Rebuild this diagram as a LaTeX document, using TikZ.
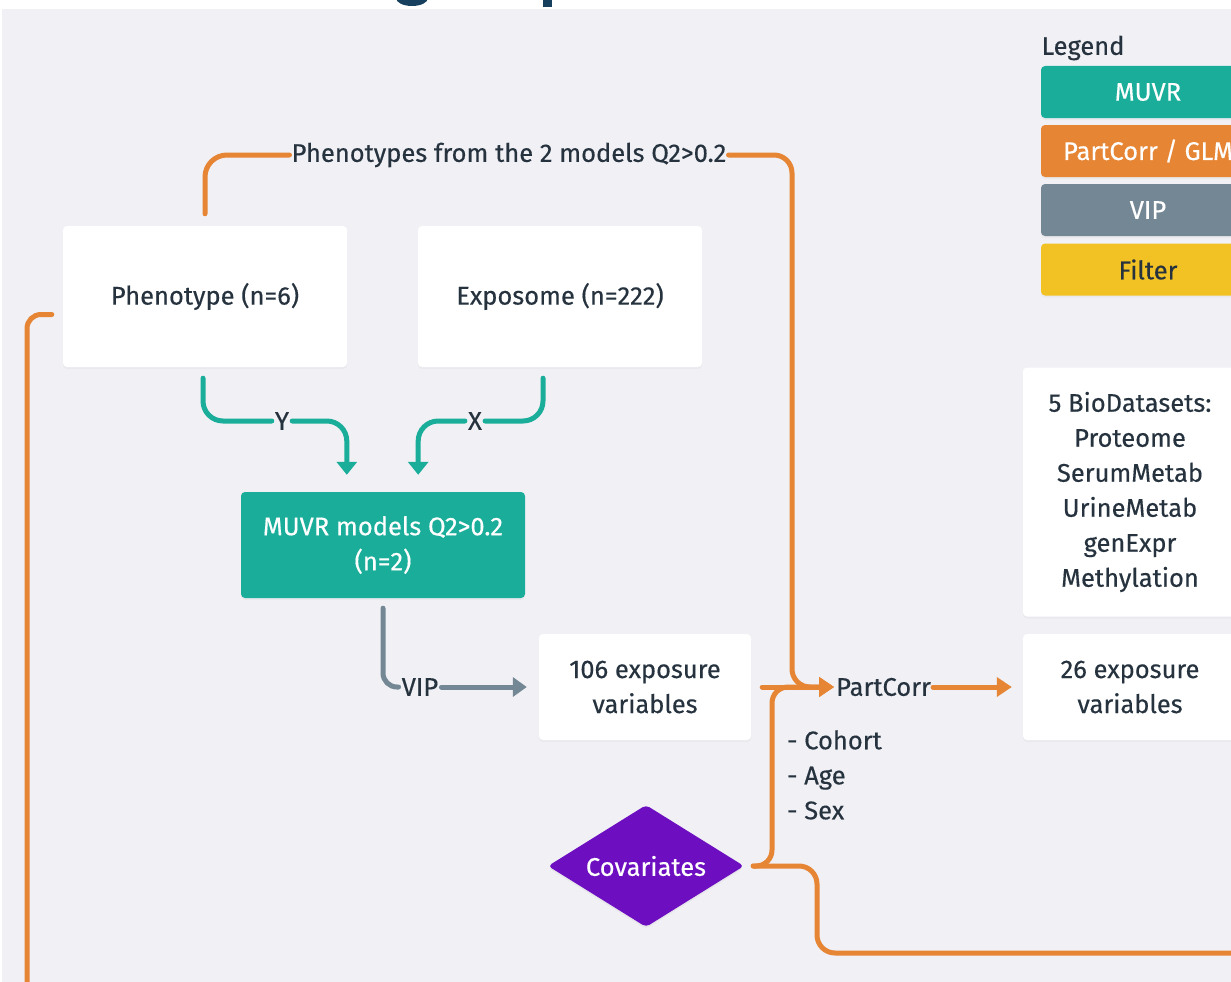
\documentclass[tikz,border=0pt]{standalone}
\usepackage{fontspec}
\setmainfont[FakeBold=0.35]{Fira Sans}
\usetikzlibrary{arrows.meta,shapes.geometric,shadows}
\definecolor{bg}{HTML}{F0F0F5}
\definecolor{ink}{HTML}{26333F}
\definecolor{muvrc}{HTML}{1AAE9A}
\definecolor{pcorrc}{HTML}{E68534}
\definecolor{vipc}{HTML}{748794}
\definecolor{filtc}{HTML}{F2C224}
\definecolor{covc}{HTML}{6D0FC0}
\definecolor{titlec}{HTML}{17405F}
\begin{document}
\begin{tikzpicture}[x=1pt,y=-1pt,
  txt/.style={font=\fontsize{25.5}{35}\selectfont, text=ink},
  card/.style={txt, fill=white, rounded corners=4pt, align=center, inner sep=0pt,
    drop shadow={opacity=0.06, shadow xshift=0pt, shadow yshift=-2pt}},
  legbox/.style={card, minimum width=214pt, minimum height=52pt, text=white},
  lab/.style={txt, inner sep=3pt},
  tealline/.style={draw=muvrc, line width=5pt, line cap=round, rounded corners=20pt},
  tealarrow/.style={tealline, -{Triangle[width=20pt,length=13pt]}},
  vipline/.style={draw=vipc, line width=5pt, line cap=round, rounded corners=14pt},
  viparrow/.style={vipline, -{Triangle[width=19pt,length=14pt]}},
  pline/.style={draw=pcorrc, line width=5pt, line cap=round, rounded corners=18pt},
  parrow/.style={pline, -{Triangle[width=19pt,length=15pt]}},
]
\useasboundingbox (0,0) rectangle (1231,982);
\clip (0,0) rectangle (1231,982);
\fill[white] (0,0) rectangle (1231,982);
\fill[bg] (2,9) rectangle (1235,985);

% heading above the canvas (only its descenders reach this area)
\fill[titlec] (412,-2) ellipse (16pt and 8pt);
\fill[titlec] (543,-2) rectangle (552,7);

% legend
\node[txt, anchor=west] (legend) at (1038,48) {Legend};
\node[legbox, fill=muvrc]  (lg-muvr) at (1148,92)  {MUVR};
\node[legbox, fill=pcorrc] (lg-pc)   at (1148,151) {PartCorr / GLM};
\node[legbox, fill=vipc]   (lg-vip)  at (1148,210) {VIP};
\node[legbox, fill=filtc, text=ink] (lg-filt) at (1148,269.5) {Filter};

% data blocks
\node[card, minimum width=284pt, minimum height=141pt] (pheno) at (205,296.5) {Phenotype (n=6)};
\node[card, minimum width=284pt, minimum height=141pt] (expo)  at (560,296.5) {Exposome (n=222)};
\node[card, fill=muvrc, text=white, minimum width=284pt, minimum height=106pt] (muvr) at (383,545) {MUVR models Q2>0.2\\(n=2)};
\node[card, minimum width=212pt, minimum height=106pt] (b106) at (645,687) {106 exposure\\variables};
\node[card, minimum width=214pt, minimum height=106pt] (b26)  at (1130,687) {26 exposure\\variables};
\node[card, minimum width=214pt, minimum height=249pt] (bio)  at (1130,492)
  {5 BioDatasets:\\Proteome\\SerumMetab\\UrineMetab\\genExpr\\Methylation};
\node[diamond, fill=covc, text=white, font=\fontsize{25.5}{35}\selectfont, aspect=1.6,
  inner sep=0pt, minimum width=196pt, minimum height=122pt, rounded corners=4pt,
  drop shadow={opacity=0.08, shadow xshift=0pt, shadow yshift=-2pt}] (cov) at (646,866) {Covariates};

% connector labels
\node[lab] (ylab) at (282,421) {Y};
\node[lab] (xlab) at (475,421) {X};
\node[lab] (viplab) at (420,687) {VIP};
\node[lab, inner sep=2pt] (phenlab) at (509,155) {Phenotypes from the 2 models Q2>0.2};
\node[lab, anchor=west, inner sep=2pt] (partcorr) at (834,687) {PartCorr};
\node[txt, anchor=north west, align=left, inner sep=0pt] (covlist) at (787,730) {- Cohort\\- Age\\- Sex};

% bend points and free ends
\coordinate (pcjoin) at (792,687);
\coordinate (covjoin) at (772,687);
\coordinate (cov-out) at (1240,953);
\coordinate (left-out) at (27,995);

% MUVR inputs
\draw[tealline] ([xshift=-2pt,yshift=-11pt]pheno.south) |- (ylab.west);
\draw[tealarrow] (ylab.east) -| ([xshift=106pt,yshift=17pt]muvr.north west);
\draw[tealline] ([xshift=-17pt,yshift=-11pt]expo.south) |- (xlab.east);
\draw[tealarrow] (xlab.west) -| ([xshift=-107pt,yshift=17pt]muvr.north east);

% VIP selection
\draw[vipline] ([yshift=-10pt]muvr.south) |- (viplab.west);
\draw[viparrow] (viplab.east) -- ([xshift=-12pt]b106.west);

% partial correlation inputs
\draw[pline, rounded corners=22pt] ([yshift=12pt]pheno.north) |- (phenlab.west);
\draw[parrow] (phenlab.east) -| (pcjoin) -- (partcorr.west);
\draw[parrow] ([xshift=11pt]b106.east) -- (partcorr.west);
\draw[parrow, rounded corners=16pt] ([xshift=9pt]cov.east) -| (covjoin) -- (partcorr.west);
\draw[parrow] (partcorr.east) -- ([xshift=-11pt]b26.west);

% lines leaving the canvas
\draw[pline] ([xshift=9pt]cov.east) -- (817,866) -- (817,953) -- (cov-out);
\draw[pline, rounded corners=14pt] ([xshift=-11pt,yshift=-18pt]pheno.west) -| (left-out);
\end{tikzpicture}
\end{document}
